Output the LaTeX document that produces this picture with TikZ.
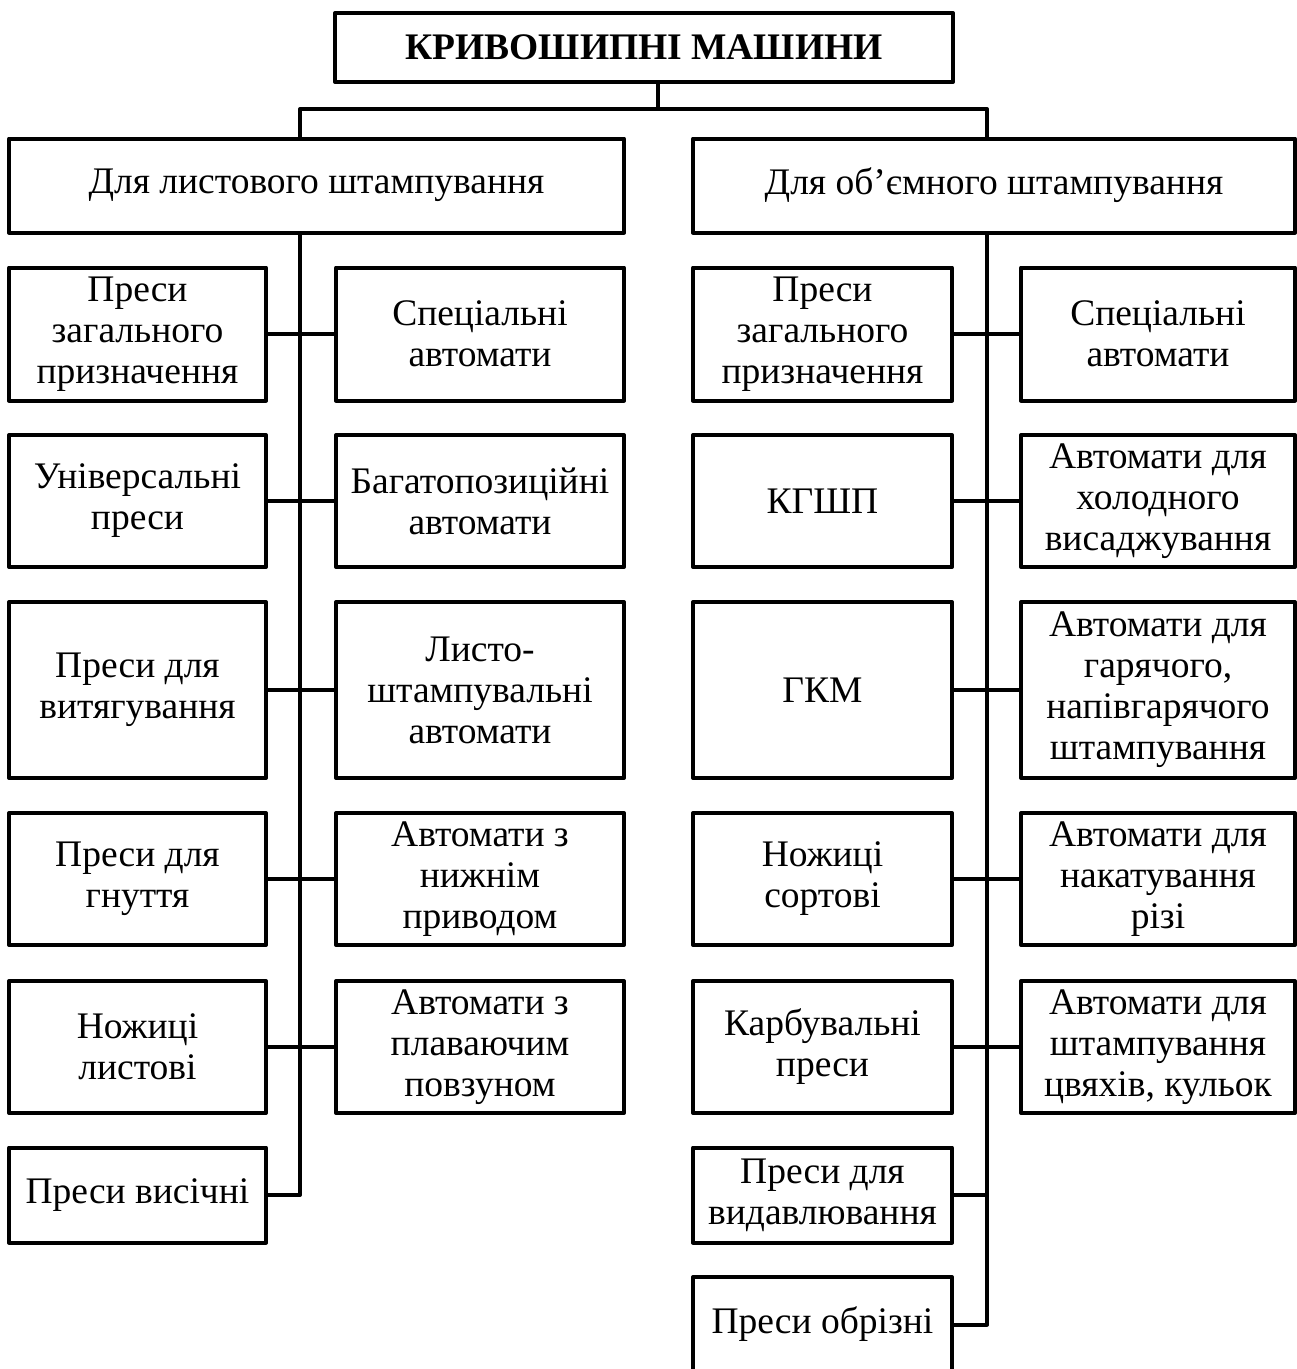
\documentclass[tikz,border=0pt]{standalone}
\usepackage{fontspec}
\setmainfont{Liberation Serif}
\begin{document}
\begin{tikzpicture}[x=1pt, y=-1pt, line join=round,
	font=\fontsize{37.5}{41}\selectfont,
	box/.style={draw, line width=4pt, align=center, inner sep=0pt},
	la/.style={box, minimum width=257pt},
	lb/.style={box, minimum width=288pt},
	ra/.style={box, minimum width=259pt},
	rb/.style={box, minimum width=274pt},
	wire/.style={line width=4pt}]
	\useasboundingbox (0,0) rectangle (1297,1369);
	% heads
	\node[box, minimum width=618pt, minimum height=69pt, font=\fontsize{37.5}{41}\selectfont\bfseries] (title) at (644,47.5) {КРИВОШИПНІ МАШИНИ};
	\node[box, minimum width=615pt, minimum height=94pt] (lcat) at (316.5,185.5) {Для листового штампування};
	\node[box, minimum width=602pt, minimum height=94pt] (rcat) at (994,185.5) {Для об’ємного штампування};
	\path
	(658,109) coordinate (fork)
	(300,0) coordinate (lsp)
	(987,0) coordinate (rsp)
	;
	% left branch
	\node[la, minimum height=133pt] (la1) at (137.5,334) {Преси\\загального\\призначення};
	\node[la, minimum height=132pt] (la2) at (137.5,501) {Універсальні\\преси};
	\node[la, minimum height=176pt] (la3) at (137.5,690) {Преси для\\витягування};
	\node[la, minimum height=132pt] (la4) at (137.5,879) {Преси для\\гнуття};
	\node[la, minimum height=132pt] (la5) at (137.5,1047) {Ножиці\\листові};
	\node[la, minimum height=95pt] (la6) at (137.5,1195) {Преси висічні};
	\node[lb, minimum height=133pt] (lb1) at (480,334) {Спеціальні\\автомати};
	\node[lb, minimum height=132pt] (lb2) at (480,501) {Багатопозиційні\\автомати};
	\node[lb, minimum height=176pt] (lb3) at (480,690) {Листо-\\штампувальні\\автомати};
	\node[lb, minimum height=132pt] (lb4) at (480,879) {Автомати з\\нижнім\\приводом};
	\node[lb, minimum height=132pt] (lb5) at (480,1047) {Автомати з\\плаваючим\\повзуном};
	% right branch
	\node[ra, minimum height=133pt] (ra1) at (822.5,334) {Преси\\загального\\призначення};
	\node[ra, minimum height=132pt] (ra2) at (822.5,501) {КГШП};
	\node[ra, minimum height=176pt] (ra3) at (822.5,690) {ГКМ};
	\node[ra, minimum height=132pt] (ra4) at (822.5,879) {Ножиці\\сортові};
	\node[ra, minimum height=132pt] (ra5) at (822.5,1047) {Карбувальні\\преси};
	\node[ra, minimum height=95pt] (ra6) at (822.5,1195) {Преси для\\видавлювання};
	\node[ra, minimum height=95pt] (ra7) at (822.5,1324.5) {Преси обрізні};
	\node[rb, minimum height=133pt] (rb1) at (1158,334) {Спеціальні\\автомати};
	\node[rb, minimum height=132pt] (rb2) at (1158,501) {Автомати для\\холодного\\висаджування};
	\node[rb, minimum height=176pt] (rb3) at (1158,690) {Автомати для\\гарячого,\\напівгарячого\\штампування};
	\node[rb, minimum height=132pt] (rb4) at (1158,879) {Автомати для\\накатування\\різі};
	\node[rb, minimum height=132pt] (rb5) at (1158,1047) {Автомати для\\штампування\\цвяхів, кульок};
	% connectors
	\draw[wire] (title.south -| fork) -- (fork);
	\draw[wire] (lcat.north -| lsp) |- (fork) -| (rcat.north -| rsp);
	\draw[wire] (lcat.south -| lsp) |- (la6.east);
	\draw[wire] (rcat.south -| rsp) |- (ra7.east);
	\foreach \i in {1,...,5}{
		\draw[wire] (la\i.east) -- (lb\i.west);
		\draw[wire] (ra\i.east) -- (rb\i.west);
	}
	\draw[wire] (ra6.east) -- (ra6.east -| rsp);
\end{tikzpicture}
\end{document}
